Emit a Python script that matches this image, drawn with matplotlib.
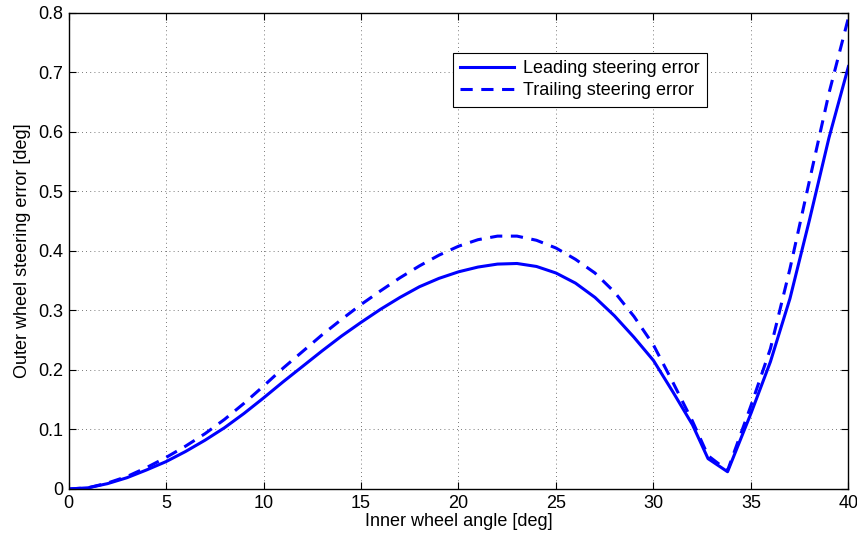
import numpy as np
import matplotlib
matplotlib.use("Agg")
import matplotlib.pyplot as plt

# inner wheel angle [deg]
angle = [0, 1, 2, 3, 4, 5, 6, 7, 8, 9, 10, 11, 12, 13, 14, 15, 16, 17, 18, 19,
         20, 21, 22, 23, 24, 25, 26, 27, 28, 29, 30, 31, 32, 32.8, 33.8,
         35, 36, 37, 38, 39, 40]

# outer wheel steering error [deg]
leading_err = [0, 0.002, 0.009, 0.019, 0.032, 0.046, 0.063, 0.082, 0.103, 0.127,
               0.153, 0.180, 0.206, 0.232, 0.257, 0.280, 0.302, 0.322, 0.340, 0.354,
               0.365, 0.373, 0.378, 0.379, 0.374, 0.363, 0.346, 0.322, 0.291, 0.255,
               0.216, 0.163, 0.108, 0.051, 0.029,
               0.127, 0.214, 0.320, 0.452, 0.590, 0.710]
trailing_err = [0, 0.002, 0.010, 0.021, 0.036, 0.053, 0.072, 0.093, 0.117, 0.144,
                0.173, 0.203, 0.231, 0.259, 0.285, 0.310, 0.333, 0.355, 0.375, 0.393,
                0.408, 0.419, 0.425, 0.425, 0.418, 0.405, 0.386, 0.363, 0.331, 0.290,
                0.242, 0.179, 0.114, 0.056, 0.031,
                0.140, 0.236, 0.370, 0.518, 0.665, 0.792]

plt.rcParams["font.family"] = ["Liberation Sans", "DejaVu Sans"]

fig = plt.figure(figsize=(8.57, 5.37), dpi=100)
ax = fig.add_axes([0.080, 0.0894, 0.910, 0.8864])

ax.plot(angle, leading_err, color="blue", lw=2.2, label="Leading steering error")
ax.plot(angle, trailing_err, color="blue", lw=2.2, linestyle=(0, (4, 2.8)),
        label="Trailing steering error")

ax.set_xlim(0, 40)
ax.set_ylim(0, 0.8)
ax.set_xticks(np.arange(0, 41, 5))
ax.set_yticks(np.arange(0, 0.81, 0.1))
ax.set_yticklabels(["0", "0.1", "0.2", "0.3", "0.4", "0.5", "0.6", "0.7", "0.8"])
ax.grid(True, linestyle=(0, (1, 4)), color="0.3", lw=0.6)
ax.tick_params(direction="in", top=True, right=True, length=5, width=0.8,
               labelsize=13, pad=4)
for s in ax.spines.values():
    s.set_linewidth(1.0)

ax.set_xlabel("Inner wheel angle [deg]", fontsize=13, labelpad=1)
ax.set_ylabel("Outer wheel steering error [deg]", fontsize=13, labelpad=5)

leg = ax.legend(loc="upper left", bbox_to_anchor=(0.493, 0.9166), borderaxespad=0,
                fontsize=13, handlelength=3.0, fancybox=False, framealpha=1,
                edgecolor="black", borderpad=0.4, labelspacing=0.3,
                handletextpad=0.5)
leg.get_frame().set_linewidth(0.8)

fig.savefig("out.png", dpi=100)
